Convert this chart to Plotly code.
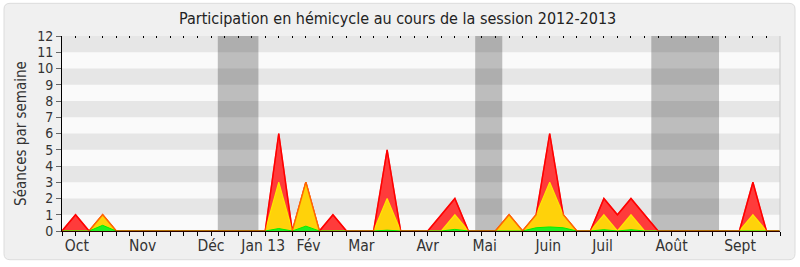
import plotly.graph_objects as go

# --- data (weekly values, week index 0..53) ---
weeks = list(range(54))
total_red = [0, 1, 0, 1, 0, 0, 0, 0, 0, 0, 0, 0, 0, 0, 0, 0, 6, 0, 3, 0,
             1, 0, 0, 0, 5, 0, 0, 0, 1, 2, 0, 0, 0, 1, 0, 1, 6, 1, 0, 0,
             2, 1, 2, 1, 0, 0, 0, 0, 0, 0, 0, 3, 0, 0]
yellow = [0, 0, 0, 1, 0, 0, 0, 0, 0, 0, 0, 0, 0, 0, 0, 0, 3, 0, 3, 0,
          0, 0, 0, 0, 2, 0, 0, 0, 0, 1, 0, 0, 0, 1, 0, 1, 3, 1, 0, 0,
          1, 0, 1, 0, 0, 0, 0, 0, 0, 0, 0, 1, 0, 0]
green = [0, 0, 0, 0.35, 0, 0, 0, 0, 0, 0, 0, 0, 0, 0, 0, 0, 0.15, 0, 0.3, 0,
         0, 0, 0, 0, 0.05, 0, 0, 0, 0, 0.1, 0, 0, 0, 0.03, 0, 0.2, 0.25, 0.2, 0, 0,
         0.08, 0, 0.08, 0, 0, 0, 0, 0, 0, 0, 0, 0.03, 0, 0]

month_labels = ["Oct", "Nov", "Déc", "Jan 13", "Fév", "Mar", "Avr", "Mai",
                "Juin", "Juil", "Août", "Sept"]
month_pos = [1.1, 5.95, 11.0, 14.85, 18.2, 22.1, 27.0, 31.2, 35.9, 39.9, 45.0, 50.05]

vacations = [(11.5, 14.5), (30.5, 32.5), (43.5, 48.5)]
y_max = 12
x_max = 53

FONT = "DejaVu Sans Condensed, DejaVu Sans, sans-serif"

# layout geometry in pixels
W, H = 800, 267
L, R, T, B = 62, 20, 36, 34
pw, ph = W - L - R, H - T - B


def px2paper(x, y):
    return (x - L) / pw, (H - B - y) / ph


fig = go.Figure()

fig.add_trace(go.Scatter(x=weeks, y=total_red, mode="lines", fill="tozeroy",
                         line=dict(color="#ff0000", width=1.5),
                         fillcolor="#ff3b3b", hoverinfo="skip", showlegend=False))
fig.add_trace(go.Scatter(x=weeks, y=yellow, mode="lines", fill="tozeroy",
                         line=dict(color="#ffe600", width=1.2),
                         fillcolor="#ffd20a", hoverinfo="skip", showlegend=False))
fig.add_trace(go.Scatter(x=weeks, y=green, mode="lines", fill="tozeroy",
                         line=dict(color="#00f000", width=1),
                         fillcolor="#22f022", hoverinfo="skip", showlegend=False))
# red outline again, half transparent, so coinciding edges look orange
fig.add_trace(go.Scatter(x=weeks, y=total_red, mode="lines",
                         line=dict(color="rgba(255,0,0,0.55)", width=1.3),
                         hoverinfo="skip", showlegend=False))
# trace on the top axis (for the small top tick dots)
fig.add_trace(go.Scatter(x=[0, x_max], y=[0, 0], xaxis="x2", mode="lines",
                         line=dict(width=0), opacity=0, hoverinfo="skip",
                         showlegend=False))

shapes = []
# rounded outer frame
x0, y0 = px2paper(4, 3)
x1, y1 = px2paper(795, 262)
r = 6
rx, ry = r / pw, r / ph
path = (f"M {x0+rx},{y0} L {x1-rx},{y0} Q {x1},{y0} {x1},{y0-ry} "
        f"L {x1},{y1+ry} Q {x1},{y1} {x1-rx},{y1} "
        f"L {x0+rx},{y1} Q {x0},{y1} {x0},{y1+ry} "
        f"L {x0},{y0-ry} Q {x0},{y0} {x0+rx},{y0} Z")
shapes.append(dict(type="path", path=path, xref="paper", yref="paper",
                   fillcolor="#f0f0f0", line=dict(color="#dcdcdc", width=1),
                   layer="below"))
# plot background
shapes.append(dict(type="rect", xref="paper", yref="paper", x0=0, x1=1, y0=0, y1=1,
                   fillcolor="#fafafa", line=dict(width=0), layer="below"))
# horizontal stripes
for k in range(1, y_max, 2):
    shapes.append(dict(type="rect", xref="paper", yref="y", x0=0, x1=1,
                       y0=k, y1=k + 1, fillcolor="#e6e6e6",
                       line=dict(width=0), layer="below"))
# vacation bands
for a, b in vacations:
    shapes.append(dict(type="rect", xref="x", yref="paper", x0=a, x1=b,
                       y0=0, y1=1, fillcolor="rgba(0,0,0,0.245)",
                       line=dict(width=0), layer="below"))
# right border line
shapes.append(dict(type="line", xref="paper", yref="paper", x0=1, x1=1, y0=0, y1=1,
                   line=dict(color="#c8c8c8", width=1)))

fig.update_layout(
    width=W, height=H,
    margin=dict(l=L, r=R, t=T, b=B),
    paper_bgcolor="#ffffff",
    plot_bgcolor="rgba(0,0,0,0)",
    shapes=shapes,
    title=dict(text="Participation en hémicycle au cours de la session 2012-2013",
               x=0.497, xanchor="center", y=0.93, yanchor="middle",
               font=dict(family=FONT, size=16, color="#222222")),
    xaxis=dict(range=[0, x_max], showgrid=False, zeroline=False,
               tickvals=month_pos, ticktext=month_labels, ticks="",
               tickfont=dict(family=FONT, size=15.5, color="#333333"),
               showline=True, linecolor="#2a0000", linewidth=1,
               minor=dict(tickmode="linear", tick0=0, dtick=1, ticks="outside",
                          ticklen=4, tickcolor="#000000", showgrid=False),
               fixedrange=True),
    xaxis2=dict(range=[0, x_max], overlaying="x", side="top", anchor="y",
                tickmode="linear", tick0=0, dtick=1, ticks="inside", ticklen=2,
                tickcolor="#000000", showticklabels=False, showgrid=False,
                zeroline=False, showline=False),
    yaxis=dict(range=[0, y_max], tickmode="linear", tick0=0, dtick=1,
               showgrid=False, zeroline=False, ticks="outside", ticklen=5,
               tickcolor="#666666", showline=True, linecolor="#000000", linewidth=1,
               tickfont=dict(family=FONT, size=14, color="#333333"),
               title=dict(text="Séances par semaine", standoff=6,
                          font=dict(family=FONT, size=15, color="#333333")),
               fixedrange=True),
)

fig.write_html("out.html")
